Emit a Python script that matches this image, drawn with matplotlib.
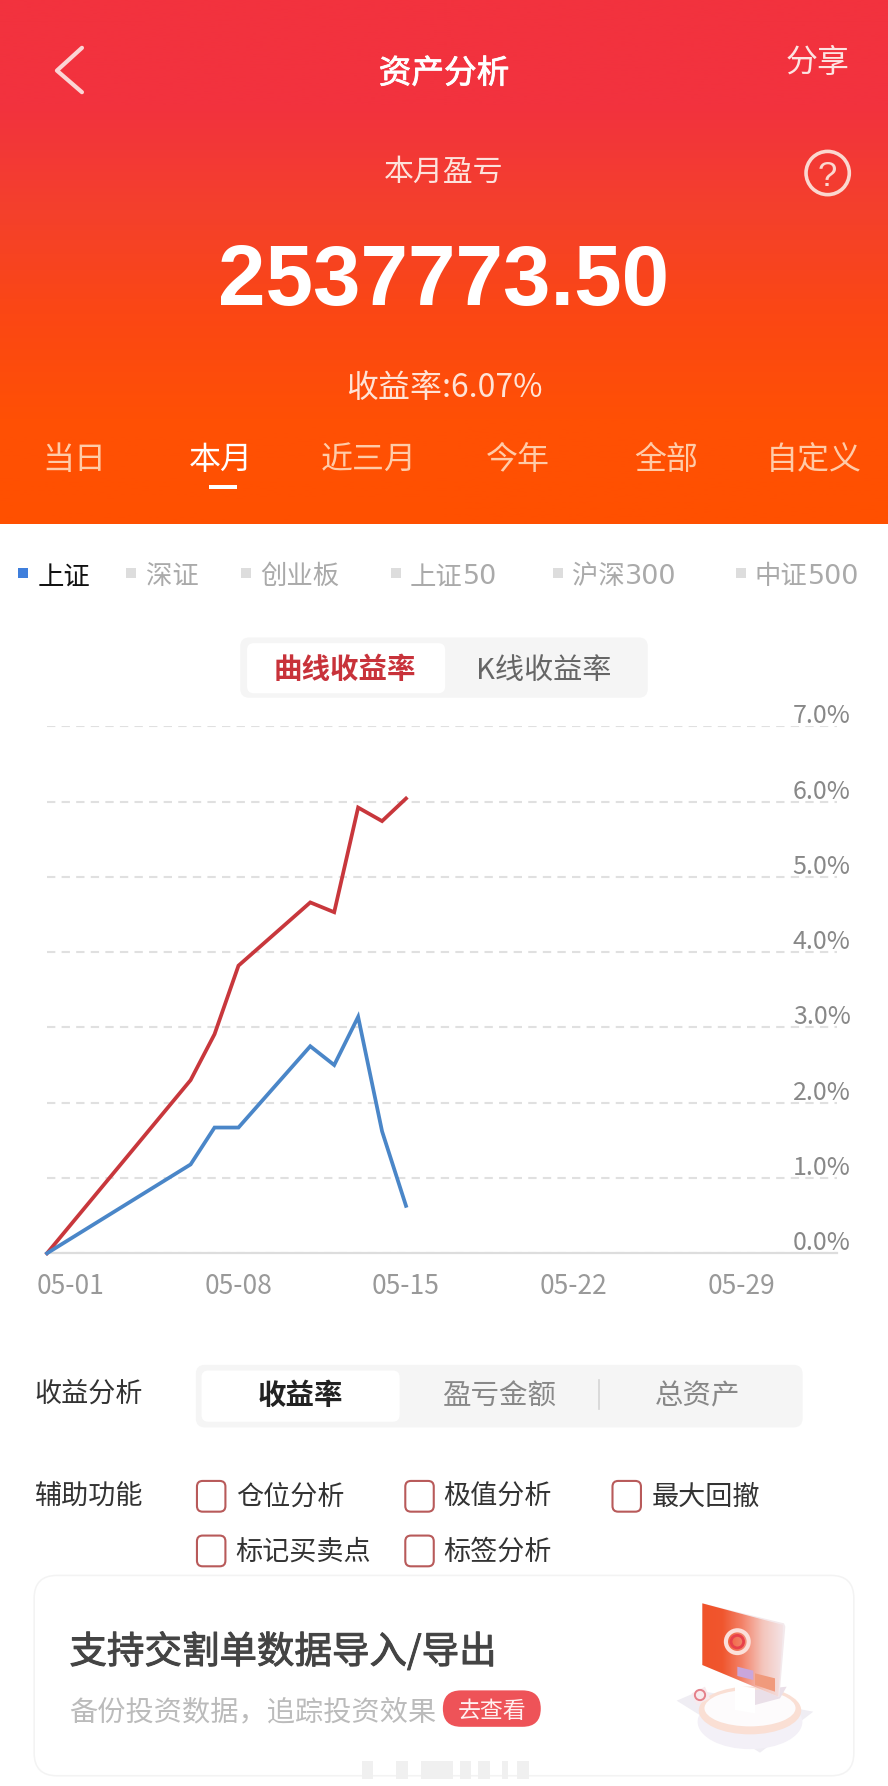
import numpy as np
import matplotlib
matplotlib.use('Agg')
import matplotlib.pyplot as plt
import matplotlib.patheffects as pe
from matplotlib.colors import LinearSegmentedColormap
from matplotlib.patches import FancyBboxPatch, Circle, Polygon, Ellipse, Rectangle
from matplotlib.transforms import ScaledTranslation

plt.rcParams['font.family'] = ['Noto Sans CJK SC', 'DejaVu Sans']

# chart data
days = [0, 6, 7, 8, 9, 10, 11, 12, 13, 14, 15]
portfolio = [0.0, 2.30, 2.91, 3.82, 4.10, 4.38, 4.66, 4.53, 5.92, 5.74, 6.04]
index_sh = [0.0, 1.18, 1.67, 1.67, 2.03, 2.39, 2.75, 2.50, 3.14, 1.62, 0.63]
tick_days = [1, 8, 15, 22, 29]
tick_dates = ['05-01', '05-08', '05-15', '05-22', '05-29']
pct_ticks = [0, 1, 2, 3, 4, 5, 6, 7]
pct_labels = ['0.0%', '1.0%', '2.0%', '3.0%', '4.0%', '5.0%', '6.0%', '7.0%']

# screen text
range_tabs = ['当日', '本月', '近三月', '今年', '全部', '自定义']
index_names = ['上证', '深证', '创业板', '上证50', '沪深300', '中证500']
profit_modes = ['收益率', '盈亏金额', '总资产']
helper_row1 = ['仓位分析', '极值分析', '最大回撤']
helper_row2 = ['标记买卖点', '标签分析']

W, H = 780, 1569  # layout units, scaled up to 888x1786 on save
fig = plt.figure(figsize=(8.88, 17.86), dpi=100)
ui = fig.add_axes([0, 0, 1, 1])
ui.set_xlim(0, W)
ui.set_ylim(H, 0)
ui.axis('off')


def box(x0, y0, x1, y1, r, fc, ec='none', lw=0, z=1):
    p = FancyBboxPatch((x0 + r, y0 + r), x1 - x0 - 2 * r, y1 - y0 - 2 * r,
                       boxstyle='round,pad=%f,rounding_size=%f' % (r, r),
                       fc=fc, ec=ec, lw=lw, zorder=z, mutation_aspect=1)
    ui.add_patch(p)
    return p


def label(x, y, s, size, color, ha='center', weight='normal', thick=0, **kw):
    t = ui.text(x, y, s, fontsize=size, color=color, ha=ha, va='center_baseline',
                fontweight=weight, zorder=6, **kw)
    if thick:
        t.set_path_effects([pe.withStroke(linewidth=thick, foreground=color)])
    return t


# header gradient
head = LinearSegmentedColormap.from_list('head', ['#F2323E', '#F2323E', '#F4402C', '#FB4714', '#FF5005', '#FF5000'])
ui.imshow(np.linspace(0, 1, 256)[:, None], extent=(0, W, 460, 0), cmap=head, aspect='auto', zorder=0)
ui.set_xlim(0, W)
ui.set_ylim(H, 0)

ui.plot([72, 50, 72], [42, 62, 81], color='#FBD5D5', lw=3, solid_capstyle='round', zorder=5)
label(390, 62, '资产分析', 23.5, 'white', thick=0.6)
label(718, 52, '分享', 23, '#FCE4E2')
label(390, 148, '本月盈亏', 21.5, '#FDE2DC')
ui.add_patch(Circle((727, 152), 19, fc='none', ec='#FBD8D0', lw=2.6, zorder=5))
label(727, 152, '?', 25, '#FBD8D0', family='Liberation Sans')
label(390, 241, '2537773.50', 61.5, 'white', weight='bold', family='Liberation Sans')
label(390, 338, '收益率:6.07%', 23, '#FFE3D6')

for x, name in zip([65, 194, 324, 455, 585, 715], range_tabs):
    label(x, 401, name, 23, 'white' if name == '本月' else '#FFCBA8')
ui.add_patch(Rectangle((184, 426), 24, 4, fc='white', zorder=5))

# index selector, digits are set wider than the CJK font gives
for i, (sq, tx, name) in enumerate(zip([20, 115, 216, 348, 490, 651], [34, 129, 230, 361, 503, 664], index_names)):
    col = '#111111' if i == 0 else '#AAAAAA'
    ui.add_patch(Rectangle((sq - 4.5, 499), 9, 9, fc='#3F7FDC' if i == 0 else '#DDDDDD', zorder=5))
    cjk = name.rstrip('0123456789')
    label(tx - 1, 504, cjk, 19, col, ha='left')
    if name != cjk:
        label(tx + len(cjk) * 23, 504, name[len(cjk):], 19.5, col, ha='left', family='DejaVu Sans')

# curve / kline toggle
box(211, 560, 569, 613, 8, '#F5F5F5')
box(217, 565, 391, 609, 6, 'white', z=2)
label(303, 586, '曲线收益率', 20.5, '#C8323A', weight='bold')
label(478, 586, 'K线收益率', 21, '#666666')

# chart
ax = fig.add_axes([41.3 / W, 1 - 1101 / H, (735 - 41.3) / W, (1101 - 638) / H])
ax.patch.set_alpha(0)
ax.plot(days, portfolio, color='#C8373C', lw=2.7, solid_joinstyle='miter', clip_on=False, zorder=4)
ax.plot(days, index_sh, color='#4A86C8', lw=2.7, solid_joinstyle='miter', clip_on=False, zorder=4)
ax.set_xlim(0, 33)
ax.set_ylim(0, 7)
ax.set_xticks(tick_days, tick_dates)
ax.set_yticks(pct_ticks, pct_labels)
ax.yaxis.tick_right()
ax.tick_params(axis='x', length=0, pad=14, labelsize=19, labelcolor='#999999')
ax.tick_params(axis='y', length=0, pad=10, labelsize=18, labelcolor='#888888')
down = ScaledTranslation(0, -3 / 100, fig.dpi_scale_trans)
for t in ax.get_yticklabels():
    t.set_ha('right')
    t.set_va('bottom')
    t.set_transform(t.get_transform() + down)
ax.grid(axis='y', color='#E0E0E0', lw=1.5, linestyle=(0, (4, 3)))
for side in ['top', 'left', 'right']:
    ax.spines[side].set_visible(False)
ax.spines['bottom'].set_color('#DDDDDD')
ax.spines['bottom'].set_linewidth(1.6)
ax.set_axisbelow(True)

# profit analysis
label(30, 1222, '收益分析', 19.5, '#333333', ha='left')
box(172, 1199, 705, 1254, 8, '#F5F5F5')
box(177, 1204, 351, 1249, 6, 'white', z=2)
for x, name, col, wt in zip([264, 438, 613], profit_modes, ['#222222', '#888888', '#888888'], ['bold', 'normal', 'normal']):
    label(x, 1224, name, 20.5, col, weight=wt)
ui.plot([526, 526], [1212, 1238], color='#D5D5D5', lw=1.2, zorder=3)

# helpers
label(30, 1313, '辅助功能', 19.5, '#333333', ha='left')
for bx, tx, name in zip([173, 356, 538], [207, 389, 572], helper_row1):
    box(bx, 1301, bx + 25, 1328, 5, 'white', ec='#B85A5A', lw=1.5, z=3)
    label(tx, 1313, name, 19.5, '#333333', ha='left')
for bx, tx, name in zip([173, 356], [207, 389], helper_row2):
    box(bx, 1349, bx + 25, 1376, 5, 'white', ec='#B85A5A', lw=1.5, z=3)
    label(tx, 1361, name, 19.5, '#333333', ha='left')

# promo card
box(30, 1384, 750, 1560, 20, 'white', ec='#F3F3F3', lw=1.1)
label(61, 1448, '支持交割单数据导入/导出', 27, '#444444', ha='left', thick=0.7)
label(61, 1501, '备份投资数据，追踪投资效果', 20.3, '#BBBBBB', ha='left')
box(389, 1485, 475, 1517, 16, '#EE5358', z=3)
label(432, 1501, '去查看', 16.5, '#FFF0F0')


# illustration, corners
def zc(pts):
    return [((640 + a / 3) * W / 888, (1570 + b / 3) * H / 1786) for a, b in pts]


ui.add_patch(Polygon(zc([(110, 392), (180, 362), (520, 425), (360, 548)]), fc='#EFEDF3', ec='none', zorder=2))
(ex, ey), = zc([(330, 435)])
ui.add_patch(Ellipse((ex, ey + 6), 92, 48, fc='#F3F0F7', ec='none', zorder=3))
ui.add_patch(Ellipse((ex, ey - 4), 90, 42, fc='#FADFD4', ec='none', zorder=3))
ui.add_patch(Ellipse((ex, ey - 6), 80, 32, fc='#FDFBFC', ec='none', zorder=3))
ui.add_patch(Polygon(zc([(285, 345), (345, 355), (345, 430), (285, 420)]), fc='white', ec='none', zorder=4))
ui.add_patch(Polygon(zc([(345, 360), (440, 350), (420, 385), (345, 405)]), fc='#EADFE8', ec='none', zorder=4))
ui.add_patch(Polygon(zc([(155, 370), (195, 350), (210, 385), (170, 405)]), fc='#F8EAED', ec='none', zorder=4))
(cx, cy), = zc([(180, 375)])
ui.add_patch(Circle((cx, cy), 4.5, fc='none', ec='#E4808A', lw=1.4, zorder=5))
screen_pts = zc([(187, 100), (430, 165), (415, 380), (187, 285)])
ui.add_patch(Polygon(zc([(187, 100), (432, 160), (436, 170), (418, 382), (187, 285)]), fc='#F3E9EC', ec='none', zorder=4))
screen = LinearSegmentedColormap.from_list('screen', ['#F0532A', '#F0562E', '#F3836A', '#F4C4BA', '#F3E2E4'])
xs = [p[0] for p in screen_pts]
ys = [p[1] for p in screen_pts]
grad = ui.imshow(np.linspace(0, 1, 64)[None, :], extent=(min(xs), max(xs), max(ys), min(ys)), cmap=screen, aspect='auto', zorder=5)
grad.set_clip_path(Polygon(screen_pts, transform=ui.transData))
ui.set_xlim(0, W)
ui.set_ylim(H, 0)
(rx, ry), = zc([(292, 215)])
ui.add_patch(Circle((rx, ry), 10, fc='none', ec='#FBE0DA', lw=3, zorder=6))
ui.add_patch(Circle((rx, ry), 5.5, fc='none', ec='#E8404A', lw=2, zorder=6))
ui.add_patch(Polygon(zc([(292, 290), (340, 302), (340, 330), (292, 318)]), fc='#C9A6DC', ec='none', zorder=6))
ui.add_patch(Polygon(zc([(345, 310), (405, 325), (405, 365), (345, 345)]), fc='#F09A7C', ec='none', zorder=6))

# blurred stamp over the bottom edge
for a, b in [(318, 328), (348, 358), (370, 398), (404, 414), (420, 430), (441, 446), (454, 465)]:
    ui.add_patch(Rectangle((a, 1547), b - a, 16, fc='#F0F0F0', ec='none', zorder=6))

fig.savefig('out.png', dpi=100)
